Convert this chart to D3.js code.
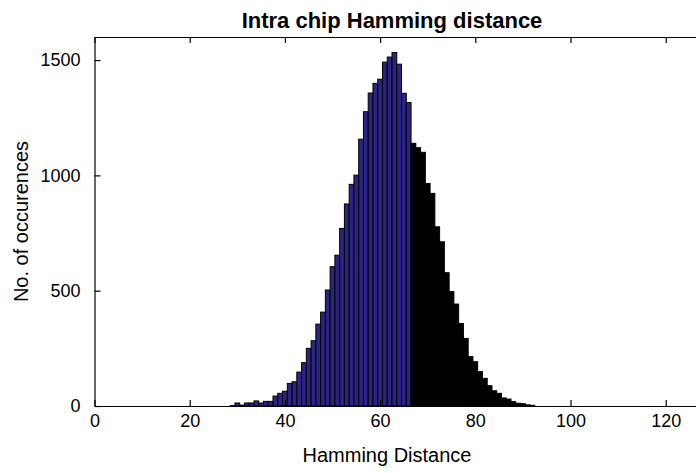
<!DOCTYPE html>
<html>
<head>
<meta charset="utf-8">
<script src="https://cdn.jsdelivr.net/npm/d3@7"></script>
<style>
  body { margin: 0; background: #fff; }
  text { font-family: "Liberation Sans", Arial, sans-serif; fill: #000; }
</style>
</head>
<body>
<svg width="696" height="473"></svg>
<script>
// histogram bins (integer centres) and counts
const bins = [28, 29, 30, 31, 32, 33, 34, 35, 36, 37, 38, 39, 40, 41, 42, 43, 44, 45, 46, 47,
    48, 49, 50, 51, 52, 53, 54, 55, 56, 57, 58, 59, 60, 61, 62, 63, 64, 65, 66, 67,
    68, 69, 70, 71, 72, 73, 74, 75, 76, 77, 78, 79, 80, 81, 82, 83, 84, 85, 86, 87,
    88, 89, 90, 91, 92]
const counts = [0, 2, 13, 4, 13, 13, 22, 13, 20, 20, 43, 55, 64, 98, 105, 147, 188, 250, 283, 355,
    407, 503, 604, 654, 770, 876, 961, 1001, 1157, 1276, 1357, 1399, 1417, 1491, 1513, 1533, 1482, 1356, 1316, 1139,
    1120, 1100, 965, 922, 777, 712, 578, 496, 442, 358, 293, 214, 192, 149, 120, 88, 66, 55, 35, 30,
    19, 12, 10, 5, 3]
// bins above this are drawn black
const split = 66
const xTicks = [0, 20, 40, 60, 80, 100, 120]
const yTicks = [0, 500, 1000, 1500]

const svg = d3.select('svg')
const mLeft = 94.5, mRight = 703.8, mTop = 37, mBottom = 406
const tickLen = 6

const x = d3.scaleLinear().domain([0, 128]).range([mLeft, mRight])
const y = d3.scaleLinear().domain([0, 1600]).range([mBottom, mTop])

const data = bins.map((b, i) => ({ bin: b, count: counts[i] }))

// bars
svg.append('g')
    .selectAll('rect')
    .data(data)
    .enter()
    .append('rect')
    .attr('x', d => x(d.bin - 0.5))
    .attr('width', d => x(d.bin + 0.5) - x(d.bin - 0.5))
    .attr('y', d => y(d.count))
    .attr('height', d => y(0) - y(d.count))
    .style('fill', d => d.bin <= split ? '#2c2384' : '#000')
    .style('stroke', '#000')
    .style('stroke-width', 1)

// axes box with inward ticks
const axisG = svg.append('g')
const fmt = d3.format('d')

const bottomAxis = d3.axisBottom(x).tickValues(xTicks).tickFormat(fmt).tickSizeInner(-tickLen).tickSizeOuter(0).tickPadding(8)
const topAxis = d3.axisTop(x).tickValues(xTicks).tickSizeInner(-tickLen).tickSizeOuter(0).tickFormat('')
const leftAxis = d3.axisLeft(y).tickValues(yTicks).tickFormat(fmt).tickSizeInner(-tickLen).tickSizeOuter(0).tickPadding(14)
const rightAxis = d3.axisRight(y).tickValues(yTicks).tickSizeInner(-tickLen).tickSizeOuter(0).tickFormat('')

axisG.append('g').attr('transform', `translate(0,${mBottom})`).call(bottomAxis)
axisG.append('g').attr('transform', `translate(0,${mTop})`).call(topAxis)
axisG.append('g').attr('transform', `translate(${mLeft},0)`).call(leftAxis)
axisG.append('g').attr('transform', `translate(${mRight},0)`).call(rightAxis)

axisG.selectAll('.domain').style('stroke', '#000').style('stroke-width', 1.2)
axisG.selectAll('.tick line').style('stroke', '#000').style('stroke-width', 1.2)
axisG.selectAll('.tick text')
    .style('font-family', '"Liberation Sans", Arial, sans-serif')
    .style('font-size', '18px')
    .style('fill', '#000')

// title and labels
svg.append('text')
    .attr('x', 392)
    .attr('y', 28)
    .attr('text-anchor', 'middle')
    .style('font-size', '22px')
    .style('font-weight', 'bold')
    .text('Intra chip Hamming distance')

svg.append('text')
    .attr('x', 387)
    .attr('y', 462)
    .attr('text-anchor', 'middle')
    .style('font-size', '20px')
    .text('Hamming Distance')

svg.append('text')
    .attr('transform', `translate(28,${(mTop + mBottom) / 2}) rotate(-90)`)
    .attr('text-anchor', 'middle')
    .style('font-size', '20px')
    .text('No. of occurences')
</script>
</body>
</html>
